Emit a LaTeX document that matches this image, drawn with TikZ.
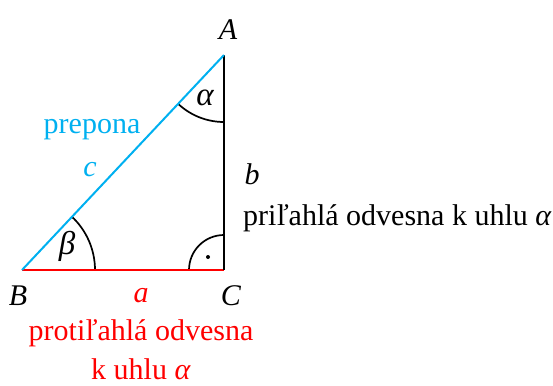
\documentclass[tikz,border=0pt]{standalone}
\usepackage{fontspec}
\setmainfont{Liberation Serif}
\definecolor{hypcyan}{RGB}{0,176,240}
\definecolor{legred}{RGB}{255,0,0}
\begin{document}
\begin{tikzpicture}[x=1pt,y=-1pt,
  lbl/.style={inner sep=0pt,font=\fontsize{30}{34}\selectfont},
  ilbl/.style={lbl,font=\fontsize{30}{34}\selectfont\itshape},
  glbl/.style={lbl,font=\fontsize{33}{36}\selectfont\itshape},
  edge/.style={line width=2pt},
  arcl/.style={line width=1.7pt}]
\useasboundingbox (0,0) rectangle (553,385);
\coordinate (A) at (224,55);
\coordinate (B) at (22,270);
\coordinate (C) at (224,270);
% angle arcs
\draw[arcl] (B) ++(0:73) arc[start angle=0,end angle=-46.8,radius=73];
\draw[arcl] (A) ++(90:67) arc[start angle=90,end angle=133.2,radius=67];
\draw[arcl] (C) ++(180:35) arc[start angle=180,end angle=270,radius=35];
\fill (208,257) circle (2pt);
% sides
\draw[edge,legred] (B) -- (C);
\draw[edge] (C) -- (A);
\draw[edge,hypcyan] (B) -- (A);
% vertex labels
\node[ilbl] (lA) at (228,30) {A};
\node[ilbl] (lB) at (18,296) {B};
\node[ilbl] (lC) at (231,296) {C};
\node[glbl] (lal) at (205,98) {α};
\node[glbl] (lbe) at (67,246) {β};
% side labels
\node[ilbl,text=legred] (la) at (141,296) {a};
\node[ilbl] (lb) at (252,174) {b};
\node[ilbl,text=hypcyan] (lc) at (90,170) {c};
\node[lbl,text=hypcyan] (prep) at (92,130) {prepona};
\node[lbl,anchor=west] (adj) at (243,218) {priľahlá odvesna k uhlu \textit{α}};
\node[lbl,text=legred] (opp1) at (141,333) {protiľahlá odvesna};
\node[lbl,text=legred] (opp2) at (141,369) {k uhlu \textit{α}};
\end{tikzpicture}
\end{document}
